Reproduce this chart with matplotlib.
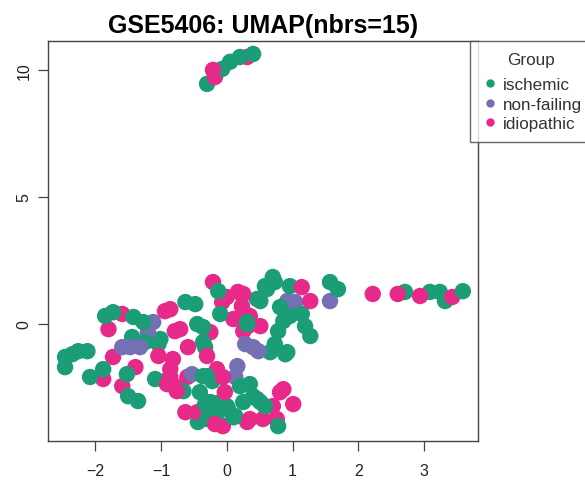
import matplotlib
matplotlib.use('Agg')
import matplotlib.pyplot as plt
from matplotlib.lines import Line2D
import pandas as pd

plt.rcParams['font.family'] = ['Liberation Sans', 'DejaVu Sans']

# UMAP coordinates, one pair of lists per group
isch_x = [-0.30, -0.07, 0.05, 0.20, 0.40,
          2.71, 3.09, 3.24, 3.32, 3.59,
          0.70, 0.58, 0.96, 1.57, 1.69, 0.46, 0.81, 1.14, 1.19, 1.27,
          0.86, 0.78, 0.73, 0.66, 0.92, 0.31, -0.10, 0.31, 0.51, 0.61,
          0.73, -0.13, 0.96, 0.89,
          -0.63, -0.48, -0.45, -0.36, -0.33, -0.36, -1.01, -1.85, -1.73, -1.42,
          -1.27, -1.44, -1.24, -1.04, -2.46, -2.35, -2.26, -2.12, -2.46, -1.88,
          -2.08, -1.52, -1.50, -1.35, -1.09,
          -0.30, -0.66, -0.44, -0.25, -0.10, 0.00, -0.15, 0.13, 0.25, 0.40,
          0.51, 0.78, 0.20, -0.41, -0.22, -0.33, 0.02, 0.35, 0.46, 0.58,
          0.10, -0.30, -0.36]
isch_y = [9.47, 10.06, 10.34, 10.53, 10.65,
          1.25, 1.25, 1.25, 0.89, 1.28,
          1.84, 1.48, 1.48, 1.64, 1.36, 0.97, 0.65, 0.38, -0.10, -0.49,
          0.10, -0.30, -0.81, -1.13, -1.13, -0.02, 0.38, 0.06, 0.89, 1.36,
          1.64, 1.28, 0.30, -1.21,
          0.85, 0.77, -0.02, -0.14, -0.93, -0.73, -0.61, 0.30, 0.45, 0.26,
          0.06, -0.53, -0.73, -0.81, -1.32, -1.21, -1.09, -1.09, -1.72, -1.80,
          -2.11, -2.00, -2.87, -3.06, -2.19,
          -2.08, -2.67, -3.89, -3.10, -3.10, -3.26, -3.58, -3.66, -3.10, -2.87,
          -3.10, -4.05, -2.47, -2.71, -2.27, -3.18, -3.38, -2.39, -2.98, -3.26,
          -3.70, -3.77, -2.08]

nonf_x = [1.57, 1.04, 0.92, 0.40, 0.28, 0.48, -1.12, -1.20, -1.59, -1.47,
          -1.32, 0.16, 0.13, -0.53]
nonf_y = [0.89, 0.85, 0.89, -0.93, -0.81, -1.09, 0.06, -0.35, -0.93, -0.93,
          -0.93, -1.68, -2.11, -2.00]

idio_x = [-0.18, -0.21, 0.31,
          2.22, 2.60, 2.94, 3.43,
          -0.21, 0.00, 0.17, -0.07, 0.23, 0.35, 0.10, 0.25, 0.51, 0.32,
          0.25, 0.25, 1.14, 1.27,
          -0.86, -0.79, -0.71, -0.25, -0.59, -1.80, -1.59, -0.94, -1.73, -1.88,
          -1.39, -1.59, -0.94, -0.86, -1.04, -0.82, -0.30,
          -0.15, -0.60, -0.79, -0.86, -0.63, -0.41, -0.06, 0.31, 0.55, 0.76,
          0.81, 1.01, 0.70, -0.45, -0.91, -0.76, -0.06, -0.03, 0.86, 0.35,
          -0.18]
idio_y = [9.74, 10.02, 10.53,
          1.17, 1.17, 1.09, 1.05,
          1.64, 1.05, 1.25, 0.85, 0.69, 0.30, 0.18, -0.30, -0.10, -0.10,
          0.49, 1.17, 1.44, 0.89,
          0.57, -0.30, -0.22, -0.34, -0.93, -0.22, 0.38, 0.49, -1.32, -2.19,
          -1.72, -2.47, -2.27, -1.80, -1.28, -1.40, -1.28,
          -1.80, -2.11, -2.47, -2.11, -3.50, -3.70, -4.05, -3.89, -3.77, -3.77,
          -2.71, -3.18, -3.26, -3.50, -2.39, -2.67, -2.11, -2.71, -2.59, -3.77,
          -3.97]

groups = ['ischemic', 'non-failing', 'idiopathic']
colors = {'ischemic': '#1B9E77', 'non-failing': '#7570B3', 'idiopathic': '#E7298A'}

df = pd.concat([
    pd.DataFrame({'x': isch_x, 'y': isch_y, 'group': 'ischemic'}),
    pd.DataFrame({'x': nonf_x, 'y': nonf_y, 'group': 'non-failing'}),
    pd.DataFrame({'x': idio_x, 'y': idio_y, 'group': 'idiopathic'}),
], ignore_index=True)
# mix the plotting order of the groups, like samples in a real dataset
df['k'] = df.groupby('group').cumcount() / df.groupby('group')['x'].transform('size')
df = df.sort_values('k', kind='stable')

fig = plt.figure(figsize=(5.85, 4.81), dpi=100)
ax = fig.add_axes([0.082, 0.081, 0.735, 0.831])

ax.scatter(df['x'], df['y'], c=df['group'].map(colors), s=140, linewidths=0)

ax.set_xlim(-2.72, 3.82)
ax.set_ylim(-4.64, 11.15)
ax.set_xticks([-2, -1, 0, 1, 2, 3])
ax.set_yticks([0, 5, 10])
ax.tick_params(axis='both', length=7, width=0.9, color='#444444',
               labelsize=11.5, labelcolor='#222222')
ax.tick_params(axis='x', pad=9)
ax.tick_params(axis='y', pad=5)
for lab in ax.get_yticklabels():
    lab.set_rotation(90)
    lab.set_va('center')
for sp in ax.spines.values():
    sp.set_color('#444444')
    sp.set_linewidth(1.0)

ax.set_title('GSE5406: UMAP(nbrs=15)', fontsize=18, fontweight='bold', pad=6.5)

handles = [Line2D([], [], marker='o', linestyle='', markersize=6,
                  markerfacecolor=colors[g], markeredgewidth=0, label=g)
           for g in groups]
leg = fig.legend(handles=handles, title='Group', loc='upper left',
                 bbox_to_anchor=(470 / 585, 1 - 42 / 481), frameon=True,
                 fancybox=False, fontsize=12.3, title_fontsize=12.3,
                 handletextpad=0.25, handlelength=1.0, borderpad=0.65,
                 labelspacing=0.28, borderaxespad=0)
leg._legend_box.sep = 7
leg.get_frame().set_edgecolor('#444444')
leg.get_frame().set_linewidth(1.0)
leg.get_title().set_color('#333333')
for t in leg.get_texts():
    t.set_color('#333333')

fig.savefig('out.png', dpi=100)
